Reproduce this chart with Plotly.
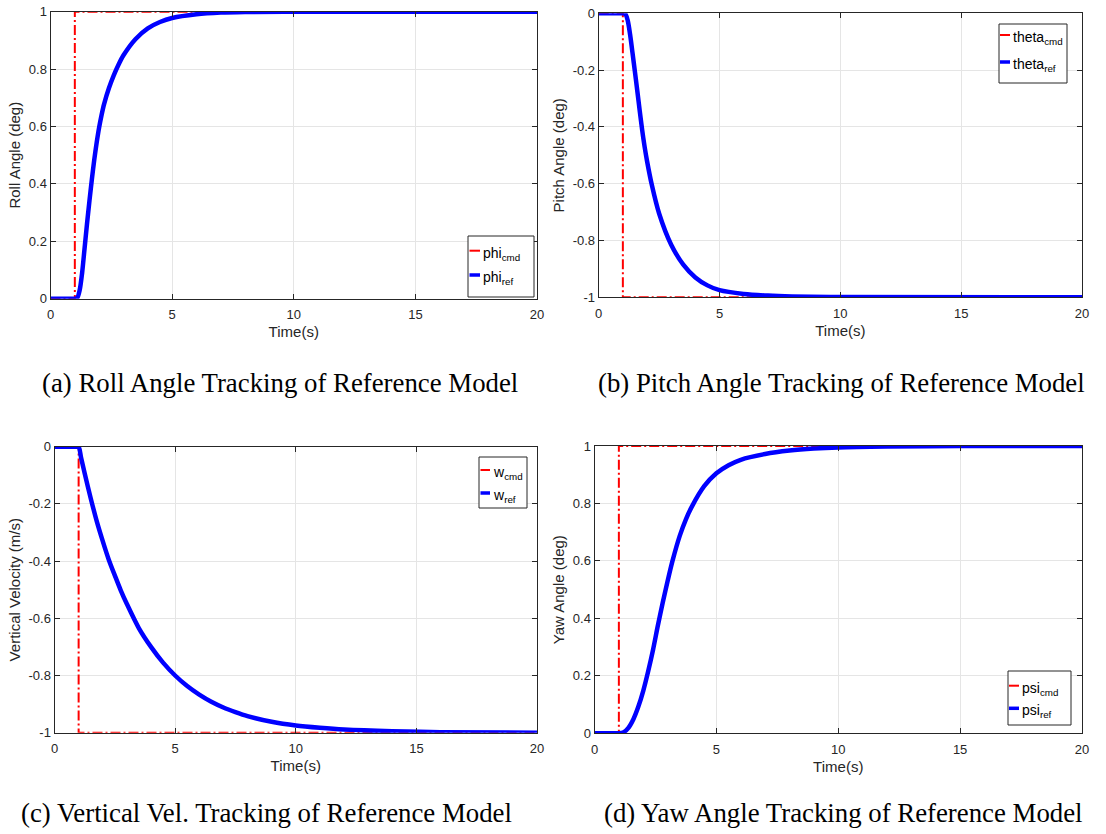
import plotly.graph_objects as go

W, H = 1106, 834

# ---------------- data ----------------
t_cmd = [0, 1, 1, 20]
phi_cmd = [0, 0, 1, 1]
theta_cmd = [0, 0, -1, -1]
w_cmd = [0, 0, -1, -1]
psi_cmd = [0, 0, 1, 1]

t_phi = [0, 0.9, 1.0, 1.1, 1.2, 1.3, 1.4, 1.5, 1.6, 1.7, 1.8, 1.9, 2.0, 2.1, 2.2, 2.4, 2.6, 2.8, 3.0, 3.5,
         4.0, 4.5, 5, 6, 7, 8, 10, 20]
phi_ref = [0, 0, 0, 0.003, 0.03, 0.09, 0.175, 0.26, 0.34, 0.415, 0.485, 0.545, 0.597, 0.64, 0.677, 0.733,
           0.778, 0.816, 0.848, 0.905, 0.942, 0.964, 0.978, 0.991, 0.997, 0.999, 1.0, 1.0]

t_theta = [0, 0.9, 1.0, 1.1, 1.2, 1.3, 1.4, 1.5, 1.6, 1.7, 1.8, 1.9, 2.0, 2.2, 2.5, 3.0, 3.5, 4.0, 4.5, 5, 6,
           7, 8, 10, 20]
theta_ref = [0, 0, 0, -0.002, -0.025, -0.075, -0.14, -0.207, -0.275, -0.345, -0.412, -0.47, -0.52, -0.605,
             -0.705, -0.815, -0.885, -0.93, -0.958, -0.975, -0.988, -0.994, -0.997, -0.999, -1.0]

t_w = [0, 0.9, 1.0, 1.1, 1.25, 1.5, 1.75, 2.0, 2.25, 2.5, 2.75, 3.0, 3.5, 4.0, 4.5, 5.0, 5.5, 6.0, 6.5, 7.0,
       7.5, 8.0, 9.0, 10, 11, 12, 14, 16, 20]
w_ref = [0, 0, 0, -0.038, -0.093, -0.18, -0.26, -0.33, -0.395, -0.45, -0.503, -0.55, -0.635, -0.70, -0.755,
         -0.80, -0.837, -0.867, -0.892, -0.912, -0.928, -0.942, -0.962, -0.975, -0.983, -0.989, -0.995, -0.998,
         -1.0]

t_psi = [0, 0.9, 1.0, 1.2, 1.4, 1.6, 1.8, 2.0, 2.2, 2.4, 2.6, 2.8, 3.0, 3.2, 3.5, 3.75, 4.0, 4.5, 5.0, 5.5,
         6.0, 7.0, 8.0, 9.0, 10, 12, 15, 20]
psi_ref = [0, 0, 0, 0.004, 0.02, 0.05, 0.093, 0.148, 0.215, 0.29, 0.375, 0.455, 0.53, 0.6, 0.688, 0.745, 0.79,
           0.86, 0.905, 0.933, 0.952, 0.972, 0.984, 0.991, 0.995, 0.998, 1.0, 1.0]

x_ticks = [0, 5, 10, 15, 20]
y_ticks_pos = [0, 0.2, 0.4, 0.6, 0.8, 1]
y_text_pos = ["0", "0.2", "0.4", "0.6", "0.8", "1"]
y_ticks_neg = [-1, -0.8, -0.6, -0.4, -0.2, 0]
y_text_neg = ["-1", "-0.8", "-0.6", "-0.4", "-0.2", "0"]

panels = [
    ("phi", t_phi, phi_ref, phi_cmd, "Roll Angle (deg)", y_ticks_pos, y_text_pos, [0, 1]),
    ("theta", t_theta, theta_ref, theta_cmd, "Pitch Angle (deg)", y_ticks_neg, y_text_neg, [-1, 0]),
    ("w", t_w, w_ref, w_cmd, "Vertical Velocity (m/s)", y_ticks_neg, y_text_neg, [-1, 0]),
    ("psi", t_psi, psi_ref, psi_cmd, "Yaw Angle (deg)", y_ticks_pos, y_text_pos, [0, 1]),
]

captions = [
    "(a) Roll Angle Tracking of Reference Model",
    "(b) Pitch Angle Tracking of Reference Model",
    "(c) Vertical Vel. Tracking of Reference Model",
    "(d) Yaw Angle Tracking of Reference Model",
]

# ---------------- layout geometry (pixels) ----------------
boxes = [  # x0, x1, ytop, ybottom
    (50.5, 537, 11.7, 298.7),
    (598.7, 1082, 13.3, 297.3),
    (54.5, 537, 446.7, 732.7),
    (594.5, 1082, 446, 733.3),
]
caption_pos = [(280, 383), (841, 383), (266, 813), (843, 813)]
# legend boxes: (x0, x1, y0, y1), rows (cmd y, ref y), sample (xa, xb), text x
legend_geo = [
    ((468, 534, 236, 297), (250.7, 275), (469.5, 480), 481),
    ((999, 1067, 24, 83), (35, 62), (1000, 1010), 1011),
    ((479, 527, 457, 508), (470, 493), (480.5, 490), 491),
    ((1008, 1071, 671, 725), (685.7, 708.3), (1009, 1019), 1020),
]

FONT = "Liberation Sans, Arial, Helvetica, sans-serif"
AX = "#262626"
GRID = "#e5e5e5"
RED = "#ff0000"
BLUE = "#0000ff"


def px(x):
    return x / W


def py(y):
    return 1 - y / H


fig = go.Figure()
layout = dict(
    width=W, height=H, margin=dict(l=0, r=0, t=0, b=0),
    paper_bgcolor="white", plot_bgcolor="white",
    font=dict(family=FONT, size=13, color=AX),
    showlegend=False,
    annotations=[], shapes=[],
)

for i, (key, tr, ref, cmd, ylab, yt, ytt, yr) in enumerate(panels):
    n = "" if i == 0 else str(i + 1)
    fig.add_trace(go.Scatter(
        x=t_cmd, y=cmd, mode="lines", name=f"{key}<sub>cmd</sub>",
        line=dict(color=RED, width=2, dash="10px,3px,2px,3px"),
        xaxis="x" + n, yaxis="y" + n,
    ))
    fig.add_trace(go.Scatter(
        x=tr, y=ref, mode="lines", name=f"{key}<sub>ref</sub>",
        line=dict(color=BLUE, width=4.5, shape="spline", smoothing=0.8),
        xaxis="x" + n, yaxis="y" + n,
    ))
    x0, x1, yt0, yb0 = boxes[i]
    common = dict(
        showline=True, linecolor=AX, linewidth=1, mirror="ticks",
        ticks="inside", ticklen=5, tickcolor=AX, tickwidth=1,
        showgrid=True, gridcolor=GRID, gridwidth=1, zeroline=False,
        tickfont=dict(family=FONT, size=13, color=AX), automargin=False,
    )
    layout["xaxis" + n] = dict(
        common, domain=[px(x0), px(x1)], anchor="y" + n, range=[0, 20],
        tickvals=x_ticks, ticktext=[str(v) for v in x_ticks], ticklabelstandoff=4,
        title=dict(text="Time(s)", font=dict(family=FONT, size=15, color=AX), standoff=5),
    )
    layout["yaxis" + n] = dict(
        common, domain=[py(yb0), py(yt0)], anchor="x" + n, range=yr,
        tickvals=yt, ticktext=ytt,
        title=dict(text=ylab, font=dict(family=FONT, size=15, color=AX), standoff=4),
    )

    # legend drawn in MATLAB style
    (bx0, bx1, by0, by1), (ry_cmd, ry_ref), (sx0, sx1), tx = legend_geo[i]
    layout["shapes"].append(dict(
        type="rect", xref="paper", yref="paper", x0=px(bx0), x1=px(bx1), y0=py(by1), y1=py(by0),
        line=dict(color=AX, width=1), fillcolor="white", layer="above",
    ))
    for ry, col, lw, lab in ((ry_cmd, RED, 2, "cmd"), (ry_ref, BLUE, 3.5, "ref")):
        layout["shapes"].append(dict(
            type="line", xref="paper", yref="paper", x0=px(sx0), x1=px(sx1), y0=py(ry), y1=py(ry),
            line=dict(color=col, width=lw), layer="above",
        ))
        layout["annotations"].append(dict(
            text=f"{key}<sub>{lab}</sub>", x=px(tx), y=py(ry + 3), xref="paper", yref="paper",
            xanchor="left", yanchor="middle", showarrow=False,
            font=dict(family=FONT, size=14, color="black"),
        ))

    cx, cy = caption_pos[i]
    layout["annotations"].append(dict(
        text=captions[i], x=px(cx), y=py(cy), xref="paper", yref="paper",
        xanchor="center", yanchor="middle", showarrow=False,
        font=dict(family="Liberation Serif, Times New Roman, serif", size=26.8, color="black"),
    ))

fig.update_layout(**layout)
fig.write_html("out.html")
